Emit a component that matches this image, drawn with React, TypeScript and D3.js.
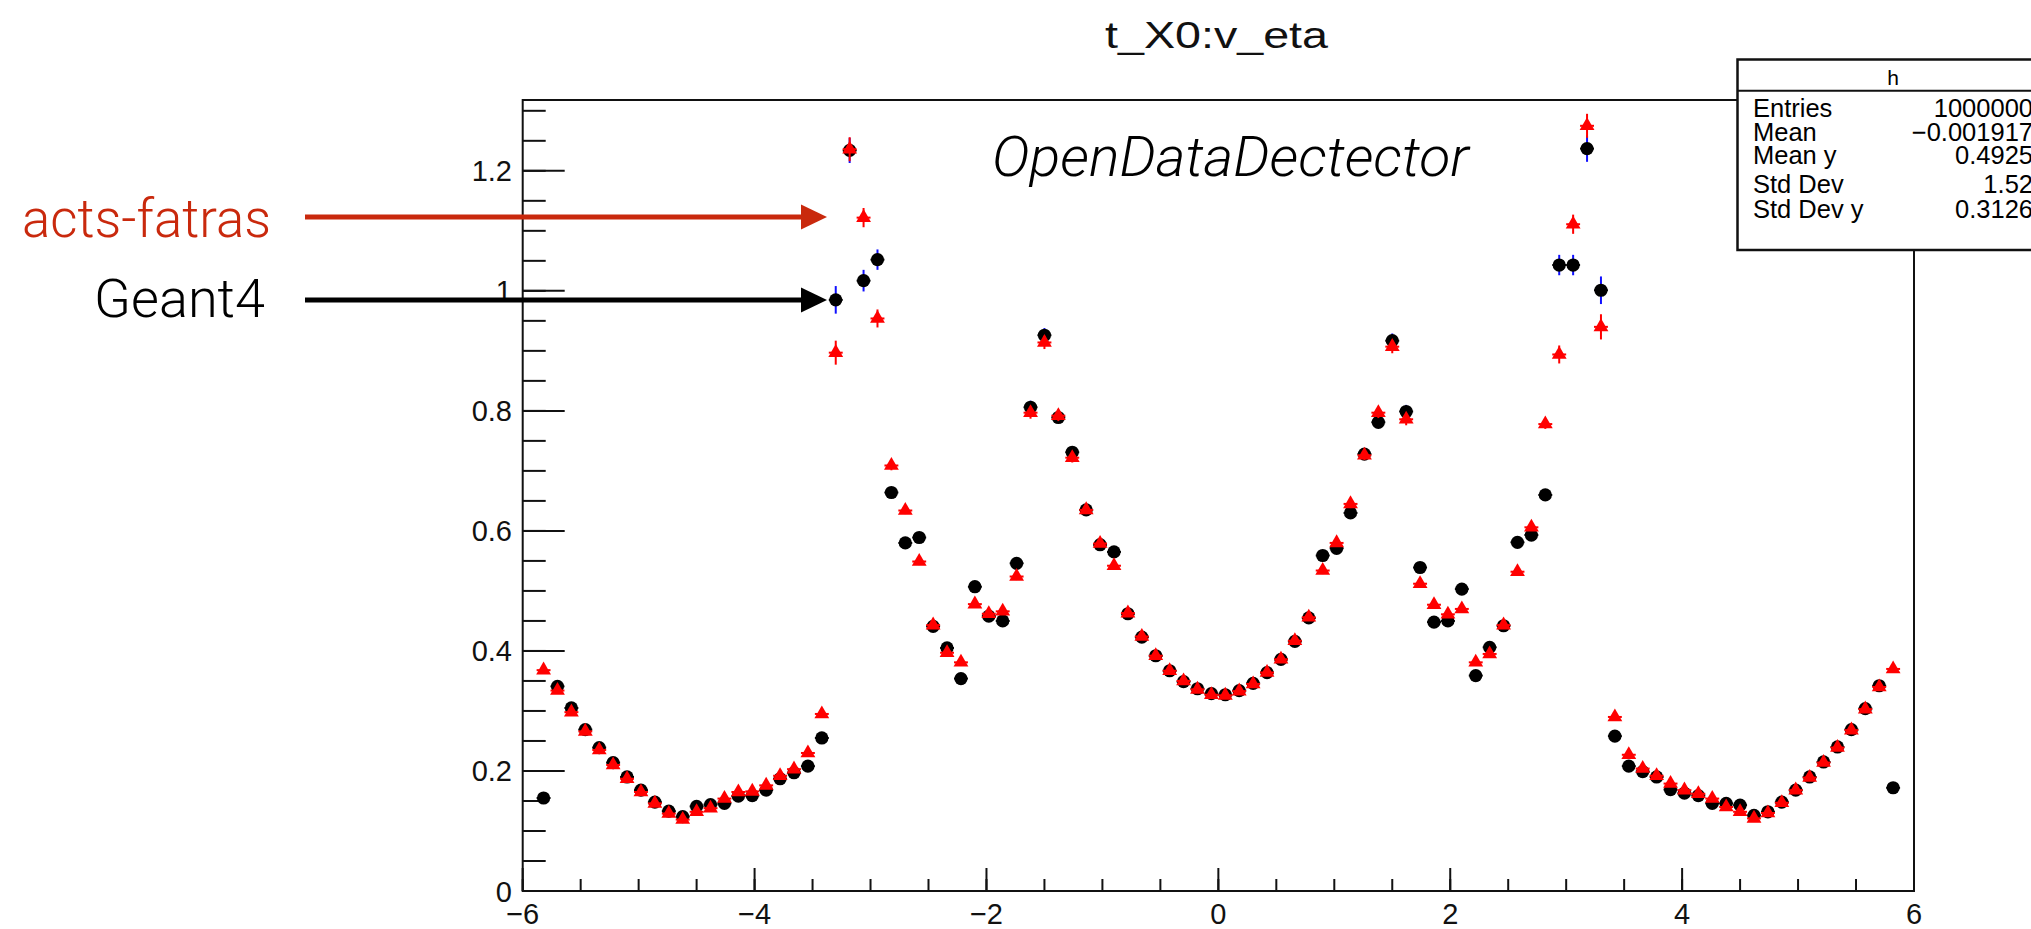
import React, { useEffect, useRef } from "react";
import * as d3 from "d3";

// eta bins: 100 bins of 0.12 between -6 and 6, the two outer ones are empty
const firstBinCentre = -5.82;
const binWidth = 0.12;

const geant4 = [
  0.155, 0.341, 0.305, 0.269, 0.239, 0.214, 0.19, 0.168, 0.148, 0.133,
  0.124, 0.141, 0.144, 0.146, 0.158, 0.159, 0.168, 0.187, 0.197, 0.208,
  0.255, 0.985, 1.234, 1.017, 1.052, 0.664, 0.58, 0.589, 0.441, 0.405,
  0.354, 0.507, 0.458, 0.45, 0.546, 0.806, 0.926, 0.789, 0.731, 0.635,
  0.577, 0.565, 0.462, 0.423, 0.392, 0.367, 0.349, 0.337, 0.329, 0.327,
  0.334, 0.346, 0.364, 0.386, 0.416, 0.455, 0.559, 0.571, 0.63, 0.728,
  0.781, 0.917, 0.799, 0.539, 0.448, 0.45, 0.503, 0.359, 0.406, 0.442,
  0.581, 0.593, 0.66, 1.043, 1.043, 1.237, 1.001, 0.258, 0.208, 0.199,
  0.19, 0.169, 0.163, 0.159, 0.146, 0.146, 0.143, 0.126, 0.132, 0.148,
  0.168, 0.19, 0.215, 0.24, 0.269, 0.304, 0.342, 0.172,
];

const geant4Err = [
  0.006, 0.004, 0.004, 0.004, 0.003, 0.003, 0.003, 0.003, 0.003, 0.003,
  0.003, 0.003, 0.003, 0.003, 0.003, 0.003, 0.003, 0.004, 0.004, 0.004,
  0.005, 0.023, 0.021, 0.018, 0.017, 0.008, 0.006, 0.006, 0.005, 0.005,
  0.005, 0.006, 0.005, 0.005, 0.006, 0.011, 0.012, 0.009, 0.008, 0.007,
  0.006, 0.006, 0.005, 0.004, 0.004, 0.004, 0.004, 0.004, 0.004, 0.004,
  0.004, 0.004, 0.004, 0.004, 0.004, 0.005, 0.006, 0.006, 0.007, 0.008,
  0.009, 0.012, 0.011, 0.006, 0.005, 0.005, 0.006, 0.005, 0.005, 0.005,
  0.006, 0.006, 0.008, 0.017, 0.017, 0.022, 0.023, 0.005, 0.004, 0.004,
  0.004, 0.003, 0.003, 0.003, 0.003, 0.003, 0.003, 0.003, 0.003, 0.003,
  0.003, 0.003, 0.003, 0.003, 0.004, 0.004, 0.004, 0.006,
];

const fatras = [
  0.368, 0.334, 0.298, 0.266, 0.235, 0.21, 0.187, 0.165, 0.146, 0.129,
  0.119, 0.132, 0.138, 0.154, 0.165, 0.166, 0.176, 0.192, 0.203, 0.23,
  0.295, 0.897, 1.236, 1.122, 0.954, 0.709, 0.634, 0.549, 0.443, 0.397,
  0.381, 0.478, 0.462, 0.466, 0.524, 0.797, 0.914, 0.792, 0.722, 0.635,
  0.579, 0.542, 0.463, 0.424, 0.392, 0.367, 0.35, 0.336, 0.327, 0.326,
  0.333, 0.345, 0.364, 0.386, 0.417, 0.456, 0.534, 0.58, 0.645, 0.726,
  0.797, 0.907, 0.786, 0.512, 0.477, 0.461, 0.47, 0.381, 0.395, 0.443,
  0.532, 0.606, 0.778, 0.894, 1.111, 1.275, 0.94, 0.29, 0.227, 0.204,
  0.192, 0.179, 0.168, 0.162, 0.154, 0.14, 0.132, 0.121, 0.13, 0.147,
  0.168, 0.189, 0.214, 0.239, 0.268, 0.303, 0.34, 0.37,
];

const fatrasErr = [
  0.006, 0.004, 0.004, 0.004, 0.003, 0.003, 0.003, 0.003, 0.003, 0.003,
  0.003, 0.003, 0.003, 0.003, 0.003, 0.003, 0.003, 0.004, 0.004, 0.004,
  0.005, 0.02, 0.02, 0.016, 0.015, 0.008, 0.006, 0.006, 0.005, 0.005,
  0.005, 0.006, 0.005, 0.005, 0.006, 0.01, 0.011, 0.009, 0.008, 0.007,
  0.006, 0.006, 0.005, 0.004, 0.004, 0.004, 0.004, 0.004, 0.004, 0.004,
  0.004, 0.004, 0.004, 0.004, 0.004, 0.005, 0.006, 0.006, 0.007, 0.008,
  0.009, 0.011, 0.01, 0.006, 0.005, 0.005, 0.006, 0.005, 0.005, 0.005,
  0.006, 0.006, 0.008, 0.015, 0.016, 0.02, 0.021, 0.005, 0.004, 0.004,
  0.004, 0.003, 0.003, 0.003, 0.003, 0.003, 0.003, 0.003, 0.003, 0.003,
  0.003, 0.003, 0.003, 0.003, 0.004, 0.004, 0.004, 0.006,
];

const xTickValues = [-6, -4, -2, 0, 2, 4, 6];
const xTickLabels = ["\u22126", "\u22124", "\u22122", "0", "2", "4", "6"];
const yTickValues = [0, 0.2, 0.4, 0.6, 0.8, 1, 1.2];
const yTickLabels = ["0", "0.2", "0.4", "0.6", "0.8", "1", "1.2"];

const statsLabels = ["Entries", "Mean", "Mean y", "Std Dev", "Std Dev y"];
const statsValues = ["1000000", "\u22120.001917", "0.4925", "1.52", "0.3126"];

const W = 2031;
const H = 929;
const frame = { left: 522.7, right: 1914, top: 100, bottom: 891 };
const statsRowY = [117, 140.5, 164, 193, 218];
const rootFont = "'Liberation Sans', Arial, Helvetica, sans-serif";
const keynoteFont = "Roboto, Lato, 'Liberation Sans', sans-serif";
const arrowRed = "#c9290d";

export default function App() {
  const svgRef = useRef<SVGSVGElement>(null);

  const x = d3.scaleLinear().domain([-6, 6]).range([frame.left, frame.right]);
  const y = d3.scaleLinear().domain([0, 1.318]).range([frame.bottom, frame.top]);

  useEffect(() => {
    const svg = d3.select(svgRef.current);
    const marks = svg.select(".marks");
    const eta = geant4.map((_, i) => firstBinCentre + i * binWidth);

    // error bars of one histogram: vertical = stat. error, horizontal = bin width
    const drawSeries = (cls, values, errs, barColor, stubColor) => {
      const g = marks.selectAll(`.${cls}`).data([0]).join("g").attr("class", cls);
      g.selectAll(".vbar")
        .data(values)
        .join("line")
        .attr("class", "vbar")
        .attr("x1", (d, i) => x(eta[i]))
        .attr("x2", (d, i) => x(eta[i]))
        .attr("y1", (d, i) => y(d - errs[i]))
        .attr("y2", (d, i) => y(d + errs[i]))
        .attr("stroke", barColor)
        .attr("stroke-width", 2);
      g.selectAll(".hbar")
        .data(values)
        .join("line")
        .attr("class", "hbar")
        .attr("x1", (d, i) => x(eta[i] - binWidth / 2))
        .attr("x2", (d, i) => x(eta[i] + binWidth / 2))
        .attr("y1", (d) => y(d))
        .attr("y2", (d) => y(d))
        .attr("stroke", stubColor)
        .attr("stroke-width", 2);
      return g;
    };

    const g4 = drawSeries("g4", geant4, geant4Err, "#1010ff", "#000");
    g4.selectAll(".dot")
      .data(geant4)
      .join("circle")
      .attr("class", "dot")
      .attr("cx", (d, i) => x(eta[i]))
      .attr("cy", (d) => y(d))
      .attr("r", 6.6)
      .attr("fill", "#000");

    const fa = drawSeries("fa", fatras, fatrasErr, "#ff0000", "#ff0000");
    const tri = d3.symbol().type(d3.symbolTriangle).size(95);
    fa.selectAll(".tri")
      .data(fatras)
      .join("path")
      .attr("class", "tri")
      .attr("d", tri)
      .attr("transform", (d, i) => `translate(${x(eta[i])},${y(d)})`)
      .attr("fill", "#ff0000");
  }, []);

  const xMinor = d3.range(-6, 6.001, 0.5);
  const yMinor = d3.range(0, 1.3001, 0.05);

  return (
    <svg
      ref={svgRef}
      width={W}
      height={H}
      style={{ position: "absolute", left: 0, top: 0, background: "#fff" }}
    >
      <rect x={0} y={0} width={W} height={H} fill="#fff" />

      <text
        x={1216.5}
        y={48}
        fontFamily={rootFont}
        fontSize={36}
        textAnchor="middle"
        textLength={223}
        lengthAdjust="spacingAndGlyphs"
        fill="#111"
      >
        t_X0:v_eta
      </text>

      {/* frame */}
      <rect
        x={frame.left}
        y={frame.top}
        width={frame.right - frame.left}
        height={frame.bottom - frame.top}
        fill="none"
        stroke="#111"
        strokeWidth={2}
      />

      {/* y axis ticks */}
      {yMinor.map((v) => (
        <line
          key={"ym" + v}
          x1={frame.left}
          x2={frame.left + 23}
          y1={y(v)}
          y2={y(v)}
          stroke="#111"
          strokeWidth={2}
        />
      ))}
      {yTickValues.map((v, i) => (
        <g key={"y" + v}>
          <line x1={frame.left} x2={frame.left + 42} y1={y(v)} y2={y(v)} stroke="#111" strokeWidth={2} />
          <text
            x={512}
            y={y(v) + 10.5}
            fontFamily={rootFont}
            fontSize={29}
            textAnchor="end"
            fill="#111"
          >
            {yTickLabels[i]}
          </text>
        </g>
      ))}

      {/* x axis ticks */}
      {xMinor.map((v) => (
        <line
          key={"xm" + v}
          x1={x(v)}
          x2={x(v)}
          y1={frame.bottom}
          y2={frame.bottom - 12}
          stroke="#111"
          strokeWidth={2}
        />
      ))}
      {xTickValues.map((v, i) => (
        <g key={"x" + v}>
          <line x1={x(v)} x2={x(v)} y1={frame.bottom} y2={frame.bottom - 23} stroke="#111" strokeWidth={2} />
          <text
            x={x(v)}
            y={924}
            fontFamily={rootFont}
            fontSize={29}
            textAnchor="middle"
            fill="#111"
          >
            {xTickLabels[i]}
          </text>
        </g>
      ))}

      <g className="marks" />

      <text
        x={992}
        y={176}
        fontFamily={keynoteFont}
        fontStyle="italic"
        fontWeight={300}
        fontSize={55}
        textLength={477}
        lengthAdjust="spacingAndGlyphs"
      >
        OpenDataDectector
      </text>

      {/* stats box */}
      <g fontFamily={rootFont}>
        <rect x={1737.5} y={59.5} width={330} height={190.5} fill="#fff" stroke="#111" strokeWidth={2.5} />
        <line x1={1737.5} x2={W} y1={90.7} y2={90.7} stroke="#111" strokeWidth={2} />
        <text x={1893} y={85} fontSize={21} textAnchor="middle">
          h
        </text>
        {statsLabels.map((s, i) => (
          <g key={s}>
            <text x={1753} y={statsRowY[i]} fontSize={25.5}>
              {s}
            </text>
            <text x={2033} y={statsRowY[i]} fontSize={25.5} textAnchor="end">
              {statsValues[i]}
            </text>
          </g>
        ))}
      </g>

      {/* annotations */}
      <g fontFamily={keynoteFont} fontWeight={300} fontSize={53}>
        <text x={22} y={237} fill={arrowRed} textLength={249} lengthAdjust="spacingAndGlyphs">
          acts-fatras
        </text>
        <text x={94} y={317} fill="#000" textLength={171} lengthAdjust="spacingAndGlyphs">
          Geant4
        </text>
      </g>
      <line x1={305} x2={803} y1={217} y2={217} stroke={arrowRed} strokeWidth={5} />
      <polygon points="801,204.5 827,217 801,229.5" fill={arrowRed} />
      <line x1={305} x2={803} y1={300} y2={300} stroke="#000" strokeWidth={5} />
      <polygon points="801,287.5 827,300 801,312.5" fill="#000" />
    </svg>
  );
}
